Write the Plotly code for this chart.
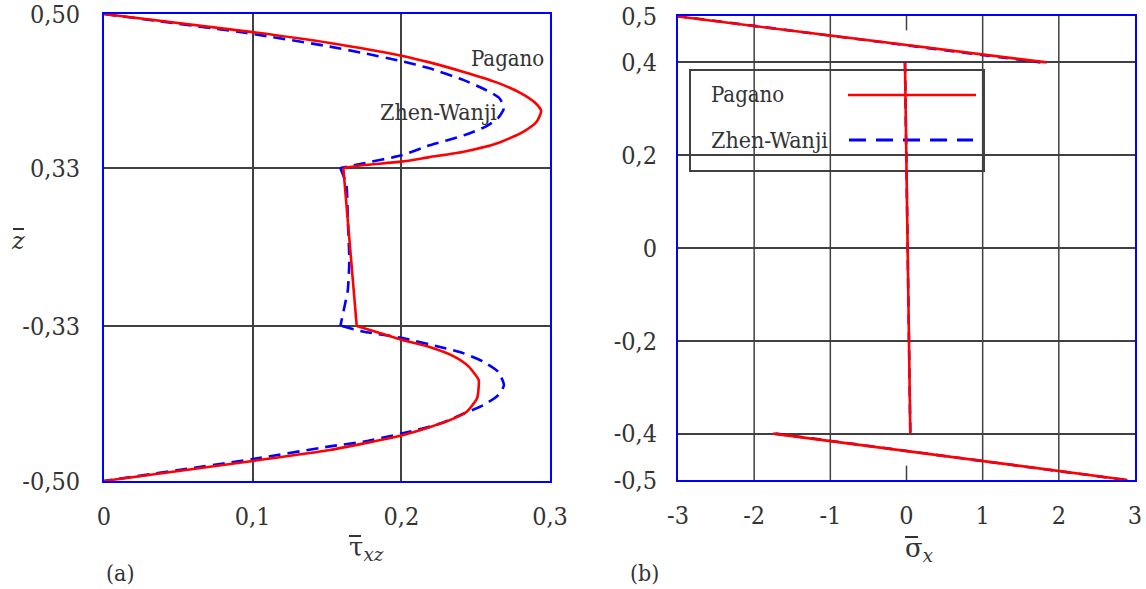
import numpy as np
import plotly.graph_objects as go

W, H = 1146, 589
series_names = ["Pagano", "Zhen-Wanji"]
series_colors = ["#ff0000", "#0000ff"]

# ---------------- (a) tau_xz through the thickness ----------------
z_ticks = [-0.50, -0.33, 0.33, 0.50]
z_tick_labels = ["-0,50", "-0,33", "0,33", "0,50"]
tau_ticks = [0, 0.1, 0.2, 0.3]
tau_tick_labels = ["0", "0,1", "0,2", "0,3"]

# Pagano (red)
pag_top_z = [0.500, 0.480, 0.468, 0.454, 0.4466, 0.436, 0.4245, 0.413, 0.402, 0.393, 0.381, 0.370,
             0.357, 0.348, 0.342, 0.337, 0.333, 0.330]
pag_top_tau = [0.000, 0.100, 0.152, 0.200, 0.219, 0.242, 0.264, 0.280, 0.290, 0.294, 0.291, 0.282,
               0.264, 0.242, 0.219, 0.200, 0.174, 0.161]
pag_mid_z = [0.330, 0.000, -0.330]
pag_mid_tau = [0.161, 0.1655, 0.170]
pag_bot_z = [-0.330, -0.338, -0.345, -0.353, -0.363, -0.374, -0.389, -0.397, -0.409, -0.424, -0.433,
             -0.441, -0.450, -0.459, -0.466, -0.478, -0.500]
pag_bot_tau = [0.170, 0.186, 0.200, 0.219, 0.235, 0.245, 0.252, 0.252, 0.251, 0.244, 0.233,
               0.219, 0.200, 0.174, 0.152, 0.100, 0.000]

# Zhen-Wanji (blue dashed)
zw_top_z = [0.500, 0.479, 0.464, 0.457, 0.448, 0.440, 0.427, 0.416, 0.407, 0.396, 0.385, 0.376,
            0.366, 0.355, 0.344, 0.335, 0.330]
zw_top_tau = [0.000, 0.096, 0.152, 0.174, 0.200, 0.219, 0.242, 0.257, 0.266, 0.269, 0.265, 0.257,
              0.242, 0.219, 0.200, 0.174, 0.159]
zw_mid_z = [0.330, 0.259, 0.113, -0.054, -0.180, -0.242, -0.330]
zw_mid_tau = [0.159, 0.163, 0.164, 0.165, 0.164, 0.162, 0.159]
zw_bot_z = [-0.330, -0.336, -0.343, -0.353, -0.360, -0.369, -0.380, -0.395, -0.406, -0.417, -0.426,
            -0.437, -0.448, -0.457, -0.462, -0.476, -0.500]
zw_bot_tau = [0.160, 0.174, 0.200, 0.226, 0.242, 0.255, 0.265, 0.269, 0.265, 0.255, 0.242,
              0.226, 0.200, 0.174, 0.152, 0.100, 0.000]

# ---------------- (b) sigma_x through the thickness ----------------
sz_ticks = [-0.5, -0.4, -0.2, 0.0, 0.2, 0.4, 0.5]
sz_tick_labels = ["-0,5", "-0,4", "-0,2", "0", "0,2", "0,4", "0,5"]
sx_ticks = [-3, -2, -1, 0, 1, 2, 3]
sx_tick_labels = ["-3", "-2", "-1", "0", "1", "2", "3"]
sx_grid = [-2, -1, 1, 2]

pag_sig_layers = [([0.5, 0.4], [-3.05, 1.84]),
                  ([0.4, -0.4], [-0.02, 0.05]),
                  ([-0.4, -0.5], [-1.75, 2.90])]
zw_sig_layers = [([0.5, 0.4], [-3.02, 1.76]),
                 ([0.4, -0.4], [-0.02, 0.05]),
                 ([-0.4, -0.5], [-1.72, 2.88])]

# stretched thickness axis of panel (a): each layer drawn with (almost) equal height
axis_pos = [0.0, 0.9957, 2.0107, 3.0]


def z_axis(z):
    return np.interp(np.asarray(z, dtype=float), z_ticks, axis_pos)


fig = go.Figure()

txt = "#333333"
font = "DejaVu Serif Condensed"
font_b = "DejaVu Serif"
red_line = dict(color=series_colors[0], width=2.6)
blue_line = dict(color=series_colors[1], width=2.6, dash="12px,7px")

for zz, tt in [(zw_top_z, zw_top_tau), (zw_mid_z, zw_mid_tau), (zw_bot_z, zw_bot_tau)]:
    fig.add_trace(go.Scatter(x=tt, y=z_axis(zz), mode="lines", line=dict(**blue_line, shape="spline", smoothing=0.6),
                             name=series_names[1], showlegend=False, xaxis="x", yaxis="y"))
for zz, tt in [(pag_top_z, pag_top_tau), (pag_mid_z, pag_mid_tau), (pag_bot_z, pag_bot_tau)]:
    fig.add_trace(go.Scatter(x=tt, y=z_axis(zz), mode="lines", line=dict(**red_line, shape="spline", smoothing=0.6),
                             name=series_names[0], showlegend=False, xaxis="x", yaxis="y"))

for zz, ss in zw_sig_layers:
    fig.add_trace(go.Scatter(x=ss, y=zz, mode="lines", line=dict(color=series_colors[1], width=2.6, dash="10px,8px"),
                             name=series_names[1], showlegend=False, xaxis="x2", yaxis="y2"))
for zz, ss in pag_sig_layers:
    fig.add_trace(go.Scatter(x=ss, y=zz, mode="lines", line=red_line,
                             name=series_names[0], showlegend=False, xaxis="x2", yaxis="y2"))

grid = "#404040"
frame = "#0000ff"
common = dict(showline=True, mirror=True, linecolor=frame, linewidth=2, ticks="", zeroline=False,
              automargin=False, ticklabeloverflow="allow",
              gridcolor=grid, gridwidth=1.5, tickfont=dict(family=font, size=25, color=txt))

fig.update_layout(
    width=W, height=H, autosize=False,
    margin=dict(l=0, r=0, t=0, b=0, pad=0),
    paper_bgcolor="white", plot_bgcolor="white",
    showlegend=False,
    font=dict(family=font, color=txt),
    xaxis=dict(domain=[104 / W, 550 / W], range=[0, 0.3], tickvals=tau_ticks, ticktext=tau_tick_labels,
               showgrid=True, ticklabelstandoff=12, **common),
    yaxis=dict(domain=[1 - 481 / H, 1 - 14 / H], range=[0, 3], tickvals=list(z_axis(z_ticks)),
               ticktext=z_tick_labels, showgrid=True, ticklabelstandoff=17, **common),
    xaxis2=dict(domain=[678 / W, 1135 / W], range=[-3, 3], tickvals=sx_ticks, ticktext=sx_tick_labels,
                showgrid=False, ticklabelstandoff=12, anchor="y2", **common),
    yaxis2=dict(domain=[1 - 480 / H, 1 - 16 / H], range=[-0.5, 0.5], tickvals=sz_ticks, ticktext=sz_tick_labels,
                showgrid=True, ticklabelstandoff=14, anchor="x2", **common),
)


def px2x(px):  # pixel column -> x2 value (panel b)
    return -3 + (px - 678) * 6 / 457


def py2y(py):  # pixel row -> y2 value (panel b)
    return 0.5 - (py - 16) / 464


shapes = []
for gx in sx_grid:
    shapes.append(dict(type="line", xref="x2", yref="y2", x0=gx, x1=gx, y0=-0.5, y1=0.5,
                       line=dict(color=grid, width=1.5), layer="between"))
for y0, y1 in [(-0.5, -0.469), (0.469, 0.5)]:
    shapes.append(dict(type="line", xref="x2", yref="y2", x0=0, x1=0, y0=y0, y1=y1,
                       line=dict(color=grid, width=1.5), layer="between"))
# legend box of panel (b)
shapes.append(dict(type="rect", xref="x2", yref="y2", x0=px2x(690), x1=px2x(984), y0=py2y(171), y1=py2y(70),
                   line=dict(color=grid, width=2), fillcolor="rgba(0,0,0,0)", layer="between"))
shapes.append(dict(type="line", xref="x2", yref="y2", x0=px2x(848), x1=px2x(976), y0=py2y(95), y1=py2y(95),
                   line=dict(color=series_colors[0], width=2.6), layer="between"))
shapes.append(dict(type="line", xref="x2", yref="y2", x0=px2x(849), x1=px2x(973), y0=py2y(140), y1=py2y(140),
                   line=dict(color=series_colors[1], width=3, dash="17px,10px"), layer="between"))
# overbars of the axis symbols
for x0, x1, y in [(349, 361, 536), (905, 918, 537), (13, 24, 229)]:
    shapes.append(dict(type="line", xref="paper", yref="paper", x0=x0 / W, x1=x1 / W, y0=1 - y / H, y1=1 - y / H,
                       line=dict(color=txt, width=2), layer="above"))
fig.update_layout(shapes=shapes)


def ann(text, x, y, size=22, xanchor="center", family=font):
    return dict(text=text, x=x / W, y=1 - y / H, xref="paper", yref="paper", showarrow=False,
                xanchor=xanchor, yanchor="middle", font=dict(family=family, size=size, color=txt))


annotations = [
    ann(series_names[0], 507, 58),
    ann(series_names[1], 438, 112, size=23),
    ann(series_names[0], 709, 95, xanchor="left"),
    ann(series_names[1], 709, 140, xanchor="left", size=23),
    ann("<i>z</i>", 18, 241, size=24, family=font_b),
    ann("τ<sub><i>xz</i></sub>", 347, 548, size=26, xanchor="left", family=font_b),
    ann("σ<sub><i>x</i></sub>", 903, 549, size=26, xanchor="left", family=font_b),
    ann("(a)", 120, 573, size=23),
    ann("(b)", 644, 573, size=23),
]
fig.update_layout(annotations=annotations)

fig.write_html("out.html")
